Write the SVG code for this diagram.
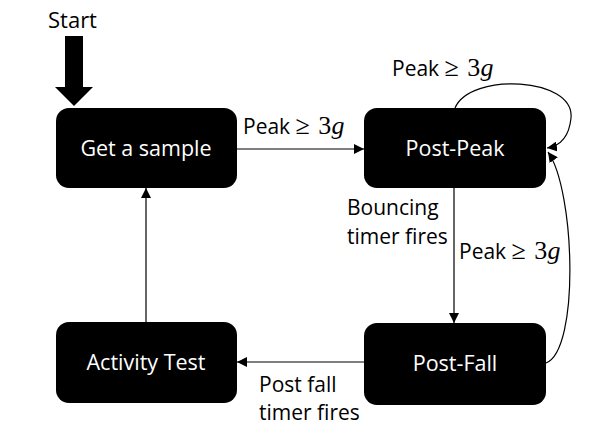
<svg xmlns="http://www.w3.org/2000/svg" width="598" height="440" viewBox="0 0 598 440">
<style>
.node{fill:#000;}
.nt{fill:#fff;font-family:"Open Sans","Noto Sans",sans-serif;font-size:21.5px;text-anchor:middle;}
.lb{fill:#000;font-family:"Open Sans","Noto Sans",sans-serif;font-size:21px;}
.m{font-family:"Liberation Serif",serif;font-size:26px;word-spacing:2px;}
.edge{fill:none;stroke:#000;stroke-width:1.2;marker-end:url(#ah);}
</style>
<defs>
<marker id="ah" viewBox="0 0 10 10" refX="10" refY="5" markerWidth="10" markerHeight="10" markerUnits="userSpaceOnUse" orient="auto">
<path d="M0,0 L10,5 L0,10 Z" fill="#000"/>
</marker>
</defs>
<rect width="598" height="440" fill="#fff"/>
<g id="start">
<text class="lb" x="48" y="28" style="font-size:22px">Start</text>
<path d="M65,36 H83 V87 H93 L74,106 L55,87 H65 Z" fill="#000"/>
</g>
<g id="connectors">
<line class="edge" x1="237" y1="149" x2="364" y2="149"/>
<path class="edge" d="M455,108 C470,72 575,77 571,118 C569,138 560,146 547,148"/>
<line class="edge" x1="454" y1="188" x2="454" y2="323"/>
<path class="edge" d="M546,363 C580,350 575,190 548,152"/>
<line class="edge" x1="364" y1="362" x2="237" y2="362"/>
<line class="edge" x1="146" y1="322" x2="146" y2="188"/>
</g>
<g id="labels">
<text class="lb" x="243" y="134">Peak <tspan class="m">≥ 3<tspan font-style="italic">g</tspan></tspan></text>
<text class="lb" x="392" y="76">Peak <tspan class="m">≥ 3<tspan font-style="italic">g</tspan></tspan></text>
<text class="lb" x="347" y="215">Bouncing</text>
<text class="lb" x="347" y="244">timer fires</text>
<text class="lb" x="459" y="259">Peak <tspan class="m">≥ 3<tspan font-style="italic">g</tspan></tspan></text>
<text class="lb" x="259" y="392">Post fall</text>
<text class="lb" x="259" y="420">timer fires</text>
</g>
<g id="node-get-sample">
<rect class="node" x="56" y="108" width="181" height="80" rx="13"/>
<text class="nt" x="146" y="156">Get a sample</text>
</g>
<g id="node-post-peak">
<rect class="node" x="364" y="108" width="182" height="80" rx="13"/>
<text class="nt" x="455" y="156">Post-Peak</text>
</g>
<g id="node-post-fall">
<rect class="node" x="364" y="323" width="182" height="82" rx="13"/>
<text class="nt" x="455" y="371">Post-Fall</text>
</g>
<g id="node-activity-test">
<rect class="node" x="56" y="322" width="181" height="81" rx="13"/>
<text class="nt" x="146" y="370">Activity Test</text>
</g>
</svg>
